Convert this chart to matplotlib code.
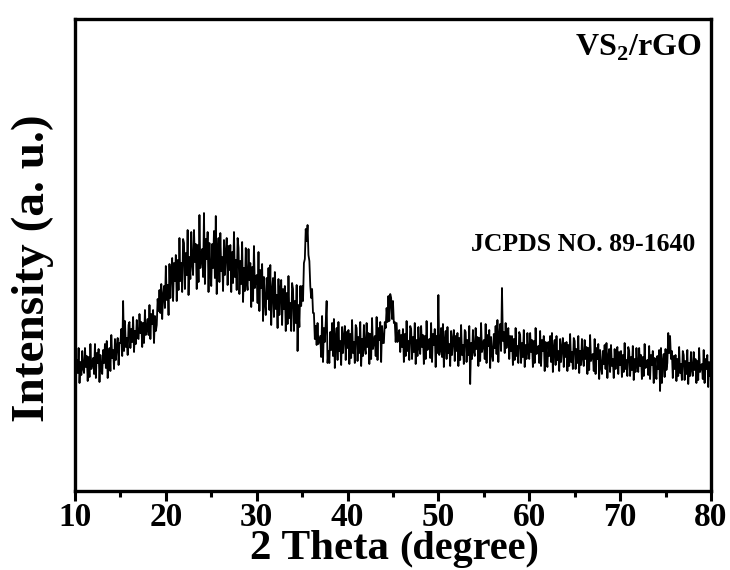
import matplotlib
matplotlib.use('Agg')
import matplotlib.pyplot as plt
import numpy as np
from matplotlib.ticker import MultipleLocator

# XRD scan, 10-80 deg, 0.1 deg step (intensity in arbitrary units)
theta_start, theta_stop, theta_step = 10.0, 80.0, 0.1
intensity = [
    138, 112, 131, 118, 143, 108, 129, 116, 140, 122,  # 10
    118, 143, 124, 135, 110, 134, 114, 147, 122, 128,  # 11
    133, 117, 147, 113, 138, 128, 142, 109, 136, 121,  # 12
    117, 141, 128, 147, 123, 150, 113, 136, 143, 120,  # 13
    156, 133, 141, 122, 152, 131, 145, 153, 126, 148,  # 14
    148, 162, 135, 190, 140, 170, 144, 153, 136, 166,  # 15
    169, 143, 162, 149, 174, 139, 160, 147, 171, 153,  # 16
    152, 177, 158, 169, 144, 168, 148, 181, 156, 162,  # 17
    172, 156, 186, 152, 177, 167, 181, 148, 175, 160,  # 18
    166, 192, 180, 201, 178, 207, 172, 196, 205, 183,  # 19
    225, 191, 206, 176, 227, 193, 218, 233, 190, 228,  # 20
    210, 236, 190, 231, 201, 253, 210, 228, 199, 252,  # 21
    248, 202, 238, 216, 261, 196, 234, 212, 259, 227,  # 22
    216, 261, 229, 247, 202, 246, 209, 276, 223, 236,  # 23
    242, 214, 278, 207, 252, 232, 259, 199, 248, 221,  # 24
    205, 247, 223, 260, 213, 275, 197, 237, 253, 209,  # 25
    258, 220, 234, 200, 251, 216, 239, 253, 206, 245,  # 26
    221, 246, 199, 239, 208, 259, 214, 231, 201, 253,  # 27
    243, 197, 230, 207, 249, 189, 223, 200, 243, 210,  # 28
    201, 242, 211, 228, 184, 224, 190, 245, 203, 213,  # 29
    216, 188, 239, 180, 221, 203, 227, 170, 214, 188,  # 30
    176, 213, 192, 223, 181, 226, 166, 200, 213, 174,  # 31
    219, 182, 196, 163, 212, 176, 199, 211, 166, 202,  # 32
    182, 205, 160, 198, 167, 215, 173, 188, 160, 208,  # 33
    202, 160, 190, 168, 206, 140, 186, 164, 205, 185,  # 34
    205, 190, 228, 232, 262, 250, 266, 236, 230, 205,  # 35
    193, 202, 178, 178, 152, 165, 146, 168, 147, 151,  # 36
    155, 134, 175, 129, 163, 149, 168, 190, 128, 140,  # 37
    128, 159, 141, 168, 135, 172, 123, 153, 163, 131,  # 38
    169, 140, 150, 126, 164, 138, 155, 165, 131, 159,  # 39
    143, 161, 127, 157, 133, 171, 138, 149, 128, 166,  # 40
    163, 130, 154, 138, 169, 125, 152, 135, 166, 143,  # 41
    137, 168, 144, 158, 127, 157, 132, 173, 142, 149,  # 42
    155, 135, 174, 131, 163, 151, 169, 129, 165, 148,  # 43
    148, 169, 163, 183, 169, 195, 170, 197, 193, 172,  # 44
    190, 168, 169, 149, 168, 149, 157, 161, 139, 156,  # 45
    144, 162, 129, 157, 135, 170, 140, 150, 131, 165,  # 46
    162, 132, 154, 139, 168, 127, 151, 135, 164, 143,  # 47
    137, 165, 144, 156, 127, 155, 132, 170, 141, 148,  # 48
    152, 133, 168, 129, 157, 146, 162, 124, 155, 138,  # 49
    196, 136, 141, 163, 134, 167, 124, 150, 160, 132,  # 50
    164, 138, 147, 125, 160, 136, 152, 161, 130, 155,  # 51
    140, 158, 125, 153, 131, 166, 136, 146, 127, 161,  # 52
    159, 129, 151, 136, 165, 107, 148, 132, 161, 140,  # 53
    135, 163, 142, 154, 125, 153, 130, 168, 139, 146,  # 54
    151, 132, 167, 128, 156, 145, 161, 123, 154, 137,  # 55
    130, 157, 143, 165, 137, 171, 129, 156, 167, 140,  # 56
    203, 150, 159, 138, 168, 143, 156, 163, 132, 155,  # 57
    140, 155, 126, 152, 131, 163, 135, 145, 128, 159,  # 58
    156, 128, 148, 134, 161, 124, 146, 132, 158, 139,  # 59
    132, 158, 139, 151, 124, 150, 128, 163, 137, 143,  # 60
    145, 128, 160, 125, 151, 140, 155, 120, 149, 132,  # 61
    124, 149, 135, 155, 129, 158, 119, 143, 151, 126,  # 62
    155, 131, 140, 120, 152, 129, 144, 153, 124, 148,  # 63
    134, 149, 120, 146, 125, 157, 129, 139, 122, 153,  # 64
    150, 122, 142, 128, 155, 118, 140, 126, 152, 133,  # 65
    125, 151, 132, 144, 117, 143, 121, 156, 130, 136,  # 66
    137, 120, 152, 117, 143, 132, 147, 112, 141, 124,  # 67
    117, 140, 127, 146, 122, 148, 113, 135, 142, 119,  # 68
    146, 125, 132, 113, 142, 122, 136, 144, 117, 139,  # 69
    126, 140, 114, 136, 119, 148, 122, 131, 115, 144,  # 70
    140, 115, 134, 121, 145, 111, 132, 119, 143, 125,  # 71
    119, 143, 125, 136, 112, 134, 115, 147, 123, 129,  # 72
    131, 116, 145, 112, 136, 126, 140, 108, 133, 119,  # 73
    112, 135, 122, 141, 100, 143, 108, 130, 137, 114,  # 74
    142, 121, 128, 158, 138, 155, 132, 140, 113, 135,  # 75
    122, 136, 110, 132, 115, 144, 118, 127, 111, 140,  # 76
    136, 111, 130, 117, 141, 107, 128, 115, 139, 121,  # 77
    115, 139, 121, 132, 108, 130, 111, 143, 119, 125,  # 78
    127, 112, 141, 108, 132, 122, 136, 104, 129, 115,  # 79
    124,                                               # 80
]
two_theta = np.round(np.arange(len(intensity)) * theta_step + theta_start, 1)

sample_label = r'VS$_\mathregular{2}$/rGO'
ref_label = 'JCPDS NO. 89-1640'

plt.rcParams['font.family'] = 'Liberation Serif'
plt.rcParams['font.weight'] = 'bold'
plt.rcParams['mathtext.fontset'] = 'custom'
plt.rcParams['mathtext.rm'] = 'Liberation Serif:bold'

fig = plt.figure(figsize=(7.3, 5.7), dpi=100)
ax = fig.add_axes([0.1027, 0.1386, 0.8712, 0.828])

ax.plot(two_theta, intensity, color='k', lw=1.3)

ax.set_xlim(theta_start, theta_stop)
ax.set_ylim(0, 472)
ax.xaxis.set_major_locator(MultipleLocator(10))
ax.xaxis.set_minor_locator(MultipleLocator(5))
ax.set_yticks([])
ax.tick_params(axis='x', which='major', direction='out', length=7, width=2.2,
               labelsize=24, pad=1)
ax.tick_params(axis='x', which='minor', direction='out', length=4, width=2.2)
for s in ax.spines.values():
    s.set_linewidth(2.4)

# axis titles ("(degree)" is set a bit smaller in the original)
t1 = fig.text(0.342, 0.019, '2 Theta ', fontsize=31, ha='left', va='baseline')
ax.annotate('(degree)', xy=(1, 0), xycoords=t1, fontsize=29,
            ha='left', va='bottom', annotation_clip=False)
fig.text(0.045, 0.53, 'Intensity (a. u.)', fontsize=34, rotation=90,
         ha='center', va='center')

ax.text(0.885, 0.94, sample_label, transform=ax.transAxes, fontsize=23,
        ha='center', va='center')
ax.text(0.975, 0.523, ref_label, transform=ax.transAxes, fontsize=18.5,
        ha='right', va='center')

plt.savefig('out.png', dpi=100)
